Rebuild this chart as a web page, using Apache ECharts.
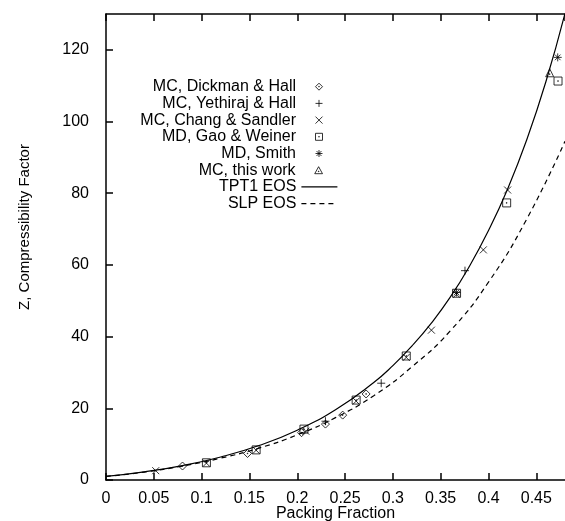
<!DOCTYPE html>
<html>
<head>
<meta charset="utf-8">
<script src="https://cdn.jsdelivr.net/npm/echarts@6/dist/echarts.min.js"></script>
<style>html,body{margin:0;padding:0;background:#fff;}#c{width:565px;height:521px;}</style>
</head>
<body>
<div id="c"></div>
<script>
// ---- data ----
var dickmanX = [0.080, 0.148, 0.2045, 0.2295, 0.2475, 0.272];
var dickmanY = [3.9, 7.4, 13.2, 15.6, 18.1, 24.0];
var yethirajX = [0.2295, 0.2878, 0.3754];
var yethirajY = [16.4, 27.0, 58.4];
var changX = [0.052, 0.105, 0.157, 0.209, 0.2616, 0.314, 0.3403, 0.3666, 0.3946, 0.420];
var changY = [2.6, 4.7, 8.3, 13.6, 22.0, 34.2, 41.8, 51.8, 64.2, 80.9];
var gaoX = [0.105, 0.157, 0.207, 0.2616, 0.314, 0.3666, 0.419, 0.4727];
var gaoY = [4.8, 8.4, 14.2, 22.3, 34.6, 52.1, 77.3, 111.3];
var smithX = [0.3666, 0.4724];
var smithY = [52.3, 117.9];
var thisWorkX = [0.464];
var thisWorkY = [113.6];
var tptX = [0, 0.04, 0.08, 0.12, 0.16, 0.20, 0.24, 0.28, 0.30, 0.32, 0.34, 0.36, 0.38, 0.40, 0.42, 0.44, 0.46, 0.48];
var tptY = [1.0, 2.27, 4.02, 6.42, 9.63, 13.9, 19.6, 27.2, 31.9, 37.4, 43.7, 51.0, 59.6, 69.6, 81.2, 94.9, 111.1, 130.2];
var slpX = [0, 0.04, 0.08, 0.12, 0.16, 0.20, 0.24, 0.28, 0.32, 0.36, 0.40, 0.44, 0.48];
var slpY = [1.0, 2.2, 3.9, 6.1, 8.9, 12.6, 17.4, 23.5, 31.6, 41.6, 55.2, 72.8, 94.5];
var xTicks = {min: 0, max: 0.48, step: 0.05};
var yTicks = {min: 0, max: 130, step: 20};

function pairs(xs, ys) { return xs.map(function (x, i) { return [x, ys[i]]; }); }

var FONT = 'Liberation Sans, Arial, Helvetica, sans-serif';
var dot = ' M4.6,4.6L5.4,4.6L5.4,5.4L4.6,5.4Z';
var symDiamond = 'path://M5,0L10,5L5,10L0,5Z' + dot;
var symPlus = 'path://M0,5L10,5M5,0L5,10';
var symCross = 'path://M0,0L10,10M10,0L0,10';
var symSquare = 'path://M0,0L10,0L10,10L0,10Z' + dot;
var symStar = 'path://M0,5L10,5M1.5,1.5L8.5,8.5M8.5,1.5L1.5,8.5M5,0L5,10';
var symTri = 'path://M5,0L10,9L0,9Z M4.6,5.6L5.4,5.6L5.4,6.4L4.6,6.4Z';

var markStyle = {color: 'rgba(0,0,0,0)', borderColor: '#000', borderWidth: 1};

function scatter(name, sym, xs, ys, size) {
  return {
    name: name, type: 'scatter', symbol: sym, symbolSize: size || 8,
    data: pairs(xs, ys), itemStyle: markStyle, z: 3, silent: true
  };
}

var names = ['MC, Dickman & Hall', 'MC, Yethiraj & Hall', 'MC, Chang & Sandler',
  'MD, Gao & Weiner', 'MD, Smith', 'MC, this work', 'TPT1 EOS', 'SLP EOS'];
var rowY = [86.7, 103.4, 120.1, 136.8, 153.5, 170.2, 186.9, 203.6];

var legends = names.map(function (n, i) {
  var isLine = i >= 6;
  return {
    data: [n], orient: 'vertical', align: 'right', right: isLine ? 227 : 242,
    top: rowY[i] - 9, itemWidth: 36, itemHeight: isLine ? 18 : 7, itemGap: 0,
    padding: 0, selectedMode: false,
    itemStyle: isLine ? {color: 'rgba(0,0,0,0)', borderColor: 'rgba(0,0,0,0)', borderWidth: 0, opacity: 0}
                      : {color: 'rgba(0,0,0,0)', borderColor: '#000', borderWidth: 1},
    lineStyle: {width: 1.2, color: '#000'},
    textStyle: {fontFamily: FONT, fontSize: 16, color: '#000', lineHeight: 18}
  };
});

var axisCommon = {
  type: 'value',
  axisLine: {show: true, onZero: false, lineStyle: {color: '#000', width: 1.5}},
  axisTick: {show: true, inside: true, length: 7, lineStyle: {color: '#000', width: 1.5}},
  splitLine: {show: false}
};

var option = {
  animation: false,
  backgroundColor: '#fff',
  grid: {left: 106, right: 0, top: 14, bottom: 41, containLabel: false, outerBoundsMode: 'none'},
  legend: legends,
  xAxis: [
    Object.assign({}, axisCommon, {
      position: 'bottom', min: xTicks.min, max: xTicks.max, interval: xTicks.step,
      axisLabel: {fontFamily: FONT, fontSize: 16, color: '#000', margin: 11, showMaxLabel: false},
      name: 'Packing Fraction', nameLocation: 'middle', nameGap: 26, nameMoveOverlap: false,
      nameTextStyle: {fontFamily: FONT, fontSize: 16, color: '#000'}
    }),
    Object.assign({}, axisCommon, {
      position: 'top', min: xTicks.min, max: xTicks.max, interval: xTicks.step,
      axisLabel: {show: false}
    })
  ],
  yAxis: [
    Object.assign({}, axisCommon, {
      position: 'left', min: yTicks.min, max: yTicks.max, interval: yTicks.step,
      axisLabel: {fontFamily: FONT, fontSize: 16, color: '#000', margin: 17, showMaxLabel: false},
      name: 'Z, Compressibility Factor', nameLocation: 'middle', nameGap: 74, nameRotate: 90,
      nameMoveOverlap: false,
      nameTextStyle: {fontFamily: FONT, fontSize: 15, color: '#000', padding: [0, 0, 0, 40]}
    })
  ],
  series: [
    scatter(names[0], symDiamond, dickmanX, dickmanY, 8),
    scatter(names[1], symPlus, yethirajX, yethirajY, 8),
    scatter(names[2], symCross, changX, changY, 7),
    scatter(names[3], symSquare, gaoX, gaoY, 8),
    scatter(names[4], symStar, smithX, smithY, 8),
    scatter(names[5], symTri, thisWorkX, thisWorkY, 8),
    {
      name: names[6], type: 'line', data: pairs(tptX, tptY), smooth: true, symbol: 'none',
      lineStyle: {color: '#000', width: 1.2, type: 'solid'}, itemStyle: {color: '#000'}, z: 2, silent: true
    },
    {
      name: names[7], type: 'line', data: pairs(slpX, slpY), smooth: true, symbol: 'none',
      lineStyle: {color: '#000', width: 1.2, type: [5, 4]}, itemStyle: {color: '#000'}, z: 2, silent: true
    }
  ]
};

var chart = echarts.init(document.getElementById('c'), null, {renderer: 'canvas'});
chart.setOption(option);
</script>
</body>
</html>
